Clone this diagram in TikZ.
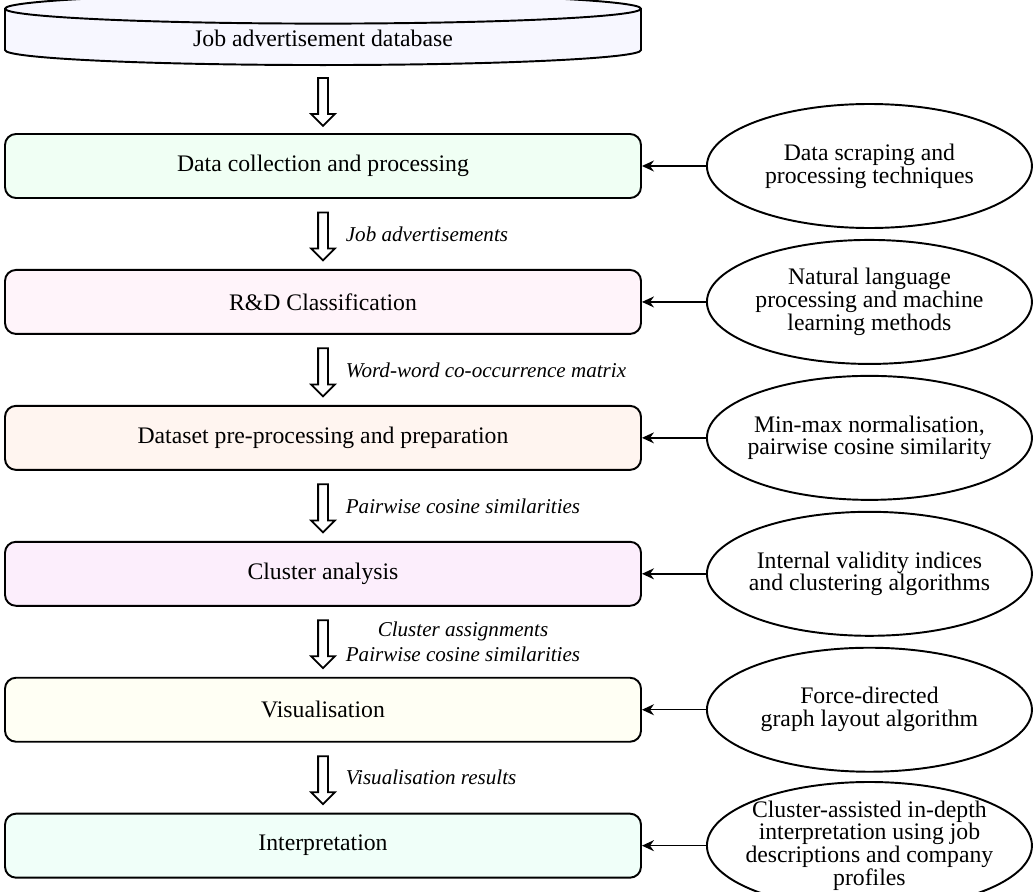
\documentclass[tikz,border=0pt]{standalone}
\usepackage{fontspec}
\setmainfont{Liberation Serif}
\usepackage{xcolor}
\usepackage{tikz}
\usetikzlibrary{
    arrows.meta,
    positioning,
    shapes.geometric,
    shapes.arrows
}

\definecolor{dbfill}{HTML}{F7F7FF}
\definecolor{collfill}{HTML}{F0FFF4}
\definecolor{rdfill}{HTML}{FFF4FA}
\definecolor{prepfill}{HTML}{FFF5F0}
\definecolor{clusfill}{HTML}{FCEEFC}
\definecolor{visfill}{HTML}{FFFFF4}
\definecolor{intfill}{HTML}{F0FFF9}

\begin{document}
\begin{tikzpicture}[
node distance=1.4cm,
box/.style={
draw,
line width=1.1pt,
rounded corners=0.22cm,
minimum width=12.72cm,
minimum height=1.28cm,
align=center,
font=\fontsize{13.5}{12}\selectfont
},
tool/.style={
draw,
ellipse,
line width=1.1pt,
minimum width=6.5cm,
minimum height=2.48cm,
inner xsep=-0.6cm,
inner ysep=0pt,
align=center,
font=\fontsize{13.5}{13}\selectfont
},
dbase/.style={
draw,
cylinder,
shape border rotate=90,
aspect=0.11,
line width=1.1pt,
fill=dbfill,
minimum width=12.72cm,
minimum height=1.2cm,
font=\fontsize{13.5}{12}\selectfont
},
flow/.style={
draw,
single arrow,
shape border rotate=270,
fill=white,
line width=1pt,
inner sep=0.08cm,
minimum height=0.96cm,
single arrow head extend=0.14cm
},
note/.style={
inner sep=0pt,
align=center,
font=\fontsize{12}{14.5}\selectfont\itshape
},
feed/.style={
-{Stealth[length=2.4mm,width=2.2mm]},
line width=0.8pt
}
]

\useasboundingbox (0,0) rectangle (20.66,-17.84);

\node[dbase, anchor=south] (jobdb) at (6.46,-1.32)
{Job advertisement database};

\node[box, fill=collfill] (collect) at (6.46,-3.32)
{Data collection and processing};

\node[box, fill=rdfill, below=of collect] (rdclass)
{R\&D Classification};

\node[box, fill=prepfill, below=of rdclass] (prep)
{Dataset pre-processing and preparation};

\node[box, fill=clusfill, below=of prep] (cluster)
{Cluster analysis};

\node[box, fill=visfill, below=of cluster] (visual)
{Visualisation};

\node[box, fill=intfill, below=of visual] (interp)
{Interpretation};

% methods on the right
\node[tool, right=1.28cm of collect] (scrape)
{Data scraping and\\processing techniques};

\node[tool, right=1.28cm of rdclass] (nlp)
{Natural language\\processing and machine\\learning methods};

\node[tool, right=1.28cm of prep] (minmax)
{Min-max normalisation,\\pairwise cosine similarity};

\node[tool, right=1.28cm of cluster] (validity)
{Internal validity indices\\and clustering algorithms};

\node[tool, right=1.28cm of visual] (force)
{Force-directed\\graph layout algorithm};

\node[tool, right=1.28cm of interp] (indepth)
{Cluster-assisted in-depth\\interpretation using job\\descriptions and company\\profiles};

% block arrows between the stages
\path (jobdb) -- node[flow] (f0) {} (collect);
\path (collect) -- node[flow] (f1) {} (rdclass);
\path (rdclass) -- node[flow] (f2) {} (prep);
\path (prep) -- node[flow] (f3) {} (cluster);
\path (cluster) -- node[flow] (f4) {} (visual);
\path (visual) -- node[flow] (f5) {} (interp);

\node[note, right=0.45cm of f1.center] (n1)
{Job advertisements};
\node[note, right=0.45cm of f2.center] (n2)
{Word-word co-occurrence matrix};
\node[note, right=0.45cm of f3.center] (n3)
{Pairwise cosine similarities};
\node[note, right=0.45cm of f4.center] (n4)
{Cluster assignments\\Pairwise cosine similarities};
\node[note, right=0.45cm of f5.center] (n5)
{Visualisation results};

\draw[feed] (scrape) -- (collect);
\draw[feed] (nlp) -- (rdclass);
\draw[feed] (minmax) -- (prep);
\draw[feed] (validity) -- (cluster);
\draw[feed] (force) -- (visual);
\draw[feed] (indepth) -- (interp);

\end{tikzpicture}
\end{document}
